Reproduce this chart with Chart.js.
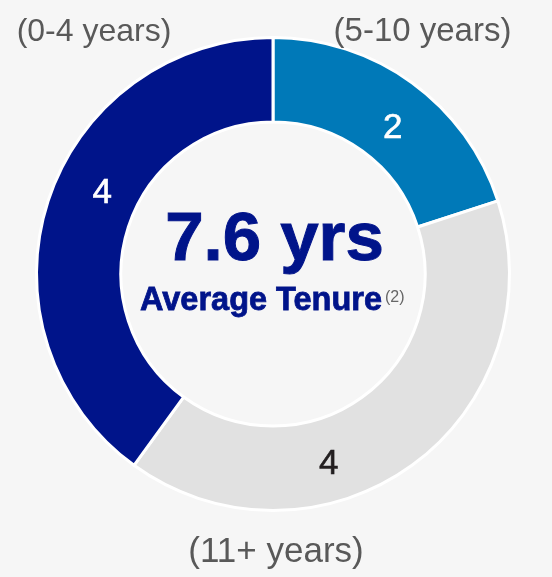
<!DOCTYPE html>
<html>
<head>
<meta charset="utf-8">
<script src="https://cdn.jsdelivr.net/npm/chart.js@4/dist/chart.umd.min.js"></script>
<style>
  html, body { margin: 0; padding: 0; background: #f6f6f6; }
  #wrap { width: 552px; height: 577px; position: relative; }
</style>
</head>
<body>
<div id="wrap"><canvas id="c" width="552" height="577"></canvas></div>
<script>
// Data
const categories = ['(5-10 years)', '(11+ years)', '(0-4 years)'];
const values = [2, 4, 4];
const valueLabels = ['2', '4', '4'];
const centerValue = '7.6 yrs';
const centerCaption = 'Average Tenure';
const centerNote = '(2)';

// Styles
const segColors = ['#0079b8', '#e1e1e1', '#00148a'];
const valueTextColors = ['#ffffff', '#231f20', '#ffffff'];
const FONT = '"Liberation Sans", Arial, sans-serif';

const labelPlugin = {
  id: 'labels',
  afterDatasetsDraw(chart) {
    const ctx = chart.ctx;
    const meta = chart.getDatasetMeta(0);
    // per-segment placement inside arc (fraction of sweep, fraction of ring thickness)
    const place = [[0.54, 0.46], [0.635, 0.51], [0.556, 0.45]];
    ctx.save();
    meta.data.forEach((arc, i) => {
      const p = arc.getProps(['x','y','startAngle','endAngle','innerRadius','outerRadius'], true);
      const a = p.startAngle + place[i][0] * (p.endAngle - p.startAngle);
      const r = p.innerRadius + place[i][1] * (p.outerRadius - p.innerRadius);
      const x = p.x + r * Math.cos(a);
      const y = p.y + r * Math.sin(a);
      ctx.font = '35px ' + FONT;
      ctx.fillStyle = valueTextColors[i];
      ctx.strokeStyle = valueTextColors[i];
      ctx.lineWidth = 0.6;
      ctx.textAlign = 'center';
      ctx.textBaseline = 'alphabetic';
      ctx.fillText(valueLabels[i], x, y + 12.5);
      ctx.strokeText(valueLabels[i], x, y + 12.5);
    });
    // center text
    const c = meta.data[0];
    const cx = c.x, cy = c.y;
    ctx.fillStyle = '#00148a';
    ctx.strokeStyle = '#00148a';
    ctx.textAlign = 'center';
    ctx.font = 'bold 69px ' + FONT;
    ctx.lineWidth = 1;
    ctx.fillText(centerValue, cx + 1.5, cy - 14);
    ctx.strokeText(centerValue, cx + 1.5, cy - 14);
    ctx.font = 'bold 32.5px ' + FONT;
    const w1 = ctx.measureText(centerCaption).width;
    const startX = cx - 133;
    ctx.textAlign = 'left';
    ctx.lineWidth = 0.8;
    ctx.fillText(centerCaption, startX, cy + 36);
    ctx.strokeText(centerCaption, startX, cy + 36);
    ctx.fillStyle = '#666666';
    ctx.font = '16px ' + FONT;
    ctx.fillText(centerNote, startX + w1 + 3, cy + 28);
    // category labels
    ctx.fillStyle = '#595959';
    ctx.textAlign = 'center';
    ctx.font = '32px ' + FONT;
    ctx.fillText(categories[2], 94, 41);
    ctx.font = '33px ' + FONT;
    ctx.fillText(categories[0], 422.5, 41);
    ctx.font = '35px ' + FONT;
    ctx.fillText(categories[1], 276, 562);
    ctx.restore();
  }
};

new Chart(document.getElementById('c'), {
  type: 'doughnut',
  data: {
    labels: categories,
    datasets: [{
      data: values,
      backgroundColor: segColors,
      borderColor: '#ffffff',
      borderWidth: 3,
      hoverOffset: 0
    }]
  },
  options: {
    responsive: false,
    animation: false,
    radius: 236.5,
    cutout: 149.5,
    rotation: 0,
    layout: { padding: { top: 40, bottom: 69, left: 38, right: 44 } },
    plugins: {
      legend: { display: false },
      tooltip: { enabled: false }
    },
    events: []
  },
  plugins: [labelPlugin]
});
</script>
</body>
</html>
